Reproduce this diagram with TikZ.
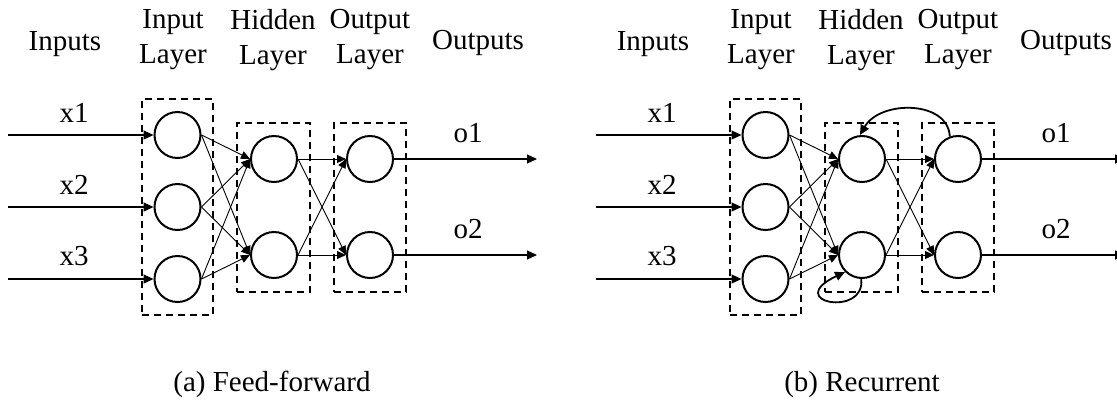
\documentclass[tikz,border=0pt]{standalone}
\usepackage{fontspec}
\setmainfont{Liberation Serif}
\usetikzlibrary{arrows.meta}
\newcommand{\drawnet}[2]{%
  \begin{scope}[xshift=#2*0.5pt]
  \node[lbl,anchor=base] (#1Lin) at (65,50) {Inputs};
  \node[lbl,align=center] (#1Lil) at (173,40) {Input\\Layer};
  \node[lbl,align=center] (#1Lhl) at (273,40) {Hidden\\Layer};
  \node[lbl,align=center] (#1Lol) at (370,40) {Output\\Layer};
  \node[lbl,anchor=base] (#1Lout) at (478,49) {Outputs};
  \node[layerbox,minimum width=35.5pt,minimum height=108pt] (#1Bi) at (177.5,207) {};
  \node[layerbox,minimum width=36.5pt,minimum height=84.5pt] (#1Bh) at (273.5,207.5) {};
  \node[layerbox,minimum width=36pt,minimum height=84.5pt] (#1Bo) at (370,207.5) {};
  \node[neuron] (#1i1) at (177.5,135) {};
  \node[neuron] (#1i2) at (177.5,207) {};
  \node[neuron] (#1i3) at (177.5,279) {};
  \node[neuron] (#1h1) at (274,159) {};
  \node[neuron] (#1h2) at (274,255) {};
  \node[neuron] (#1o1) at (370,159) {};
  \node[neuron] (#1o2) at (370,255) {};
  \coordinate (#1s1) at (8,135);
  \coordinate (#1s2) at (8,207);
  \coordinate (#1s3) at (8,279);
  \coordinate (#1e1) at (537,159);
  \coordinate (#1e2) at (537,255);
  \node[lbl,anchor=base] (#1x1) at (74,122) {x1};
  \node[lbl,anchor=base] (#1x2) at (74,194) {x2};
  \node[lbl,anchor=base] (#1x3) at (74,265) {x3};
  \node[lbl,anchor=base] (#1y1) at (468,142) {o1};
  \node[lbl,anchor=base] (#1y2) at (468,238) {o2};
  \draw[inline] (#1s1) -- (#1i1.west);
  \draw[inline] (#1s2) -- (#1i2.west);
  \draw[inline] (#1s3) -- (#1i3.west);
  \draw[inline] (#1o1.east) -- (#1e1);
  \draw[inline] (#1o2.east) -- (#1e2);
  \foreach \a in {1,2,3}{\foreach \b in {1,2}{\draw[conn] (#1i\a.east) -- (#1h\b.west);}}
  \foreach \a in {1,2}{\foreach \b in {1,2}{\draw[conn] (#1h\a.east) -- (#1o\b.west);}}
  \end{scope}}
\begin{document}
\begin{tikzpicture}[x=0.5pt,y=-0.5pt,
  neuron/.style={circle,draw,line width=1pt,minimum size=23pt,inner sep=0pt},
  layerbox/.style={draw,line width=1pt,dash pattern=on 3.6pt off 2.4pt,inner sep=0pt},
  conn/.style={line width=0.45pt,-{Triangle[length=4.5pt,width=4pt]}},
  inline/.style={line width=0.6pt,-{Triangle[length=5pt,width=4.5pt]}},
  rec/.style={line width=0.9pt,-{Triangle[length=5pt,width=4.5pt]}},
  lbl/.style={font=\fontsize{14.5}{17.5}\selectfont,inner sep=0pt},
  captext/.style={font=\fontsize{14.5}{17.5}\selectfont,inner sep=0pt}]
\useasboundingbox (0,0) rectangle (1117,402);
\clip (0,0) rectangle (1117,402);
\drawnet{a}{0}
\drawnet{b}{588}
\draw[rec] (bo1.110) .. controls (948,100) and (880,100) .. (bh1.95);
\draw[rec] (bh2.268) .. controls (866,318) and (782,302) .. (bh2.225);
\node[captext,anchor=base] (capa) at (272,391) {(a) Feed-forward};
\node[captext,anchor=base] (capb) at (862,391) {(b) Recurrent};
\end{tikzpicture}
\end{document}
